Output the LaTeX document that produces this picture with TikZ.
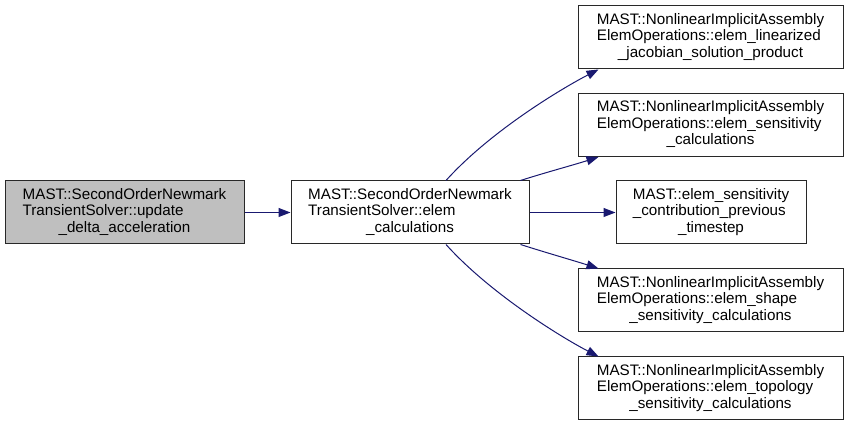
\documentclass[tikz,border=0pt]{standalone}
\usepackage{fontspec}
\setmainfont{Liberation Sans}
\usetikzlibrary{arrows.meta,calc}
\definecolor{edgeblue}{RGB}{25,25,112}
\definecolor{boxgray}{RGB}{191,191,191}
\definecolor{boxline}{RGB}{40,40,40}
\newcommand{\lbl}[3]{\begin{tabular}{@{}l@{}}#1\\#2\\\multicolumn{1}{@{}c@{}}{#3}\end{tabular}}
\begin{document}
\begin{tikzpicture}[x=1pt,y=-1pt,
  fn/.style={draw=boxline,line width=1pt,fill=white,minimum height=63pt,inner sep=0pt,
    font=\fontsize{15.2}{16.6}\selectfont},
  edge/.style={draw=edgeblue,line width=1pt,-{Triangle[length=12pt,width=9pt]}}]
\useasboundingbox (0,0) rectangle (849,427);
\node[fn,fill=boxgray,minimum width=239pt] (A) at (124.5,212.5)
  {\lbl{MAST::SecondOrderNewmark}{TransientSolver::update}{\_delta\_acceleration}};
\node[fn,minimum width=238pt] (B) at (410,212.5)
  {\lbl{MAST::SecondOrderNewmark}{TransientSolver::elem}{\_calculations}};
\node[fn,minimum width=265pt] (R1) at (710.5,37.5)
  {\lbl{MAST::NonlinearImplicitAssembly}{ElemOperations::elem\_linearized}{\_jacobian\_solution\_product}};
\node[fn,minimum width=265pt] (R2) at (710.5,125)
  {\lbl{MAST::NonlinearImplicitAssembly}{ElemOperations::elem\_sensitivity}{\_calculations}};
\node[fn,minimum width=190pt] (R3) at (711,212.5)
  {\lbl{MAST::elem\_sensitivity}{\_contribution\_previous}{\_timestep}};
\node[fn,minimum width=265pt] (R4) at (710.5,300.5)
  {\lbl{MAST::NonlinearImplicitAssembly}{ElemOperations::elem\_shape}{\_sensitivity\_calculations}};
\node[fn,minimum width=265pt] (R5) at (710.5,388.5)
  {\lbl{MAST::NonlinearImplicitAssembly}{ElemOperations::elem\_topology}{\_sensitivity\_calculations}};
\draw[edge] (A) -- (B);
\draw[edge] ($(B.north)+(36,0)$) .. controls +(45,-50) and +(-35,18) .. ($(R1.south west)+(21,0)$);
\draw[edge] ($(B.north east)+(-9,0)$) .. controls +(25,-8) and +(-25,8) .. ($(R2.south west)+(21,0)$);
\draw[edge] (B) -- (R3);
\draw[edge] ($(B.south east)+(-9,0)$) .. controls +(25,8) and +(-25,-8) .. ($(R4.north west)+(21,0)$);
\draw[edge] ($(B.south)+(36,0)$) .. controls +(45,50) and +(-35,-18) .. ($(R5.north west)+(21,0)$);
\end{tikzpicture}
\end{document}
